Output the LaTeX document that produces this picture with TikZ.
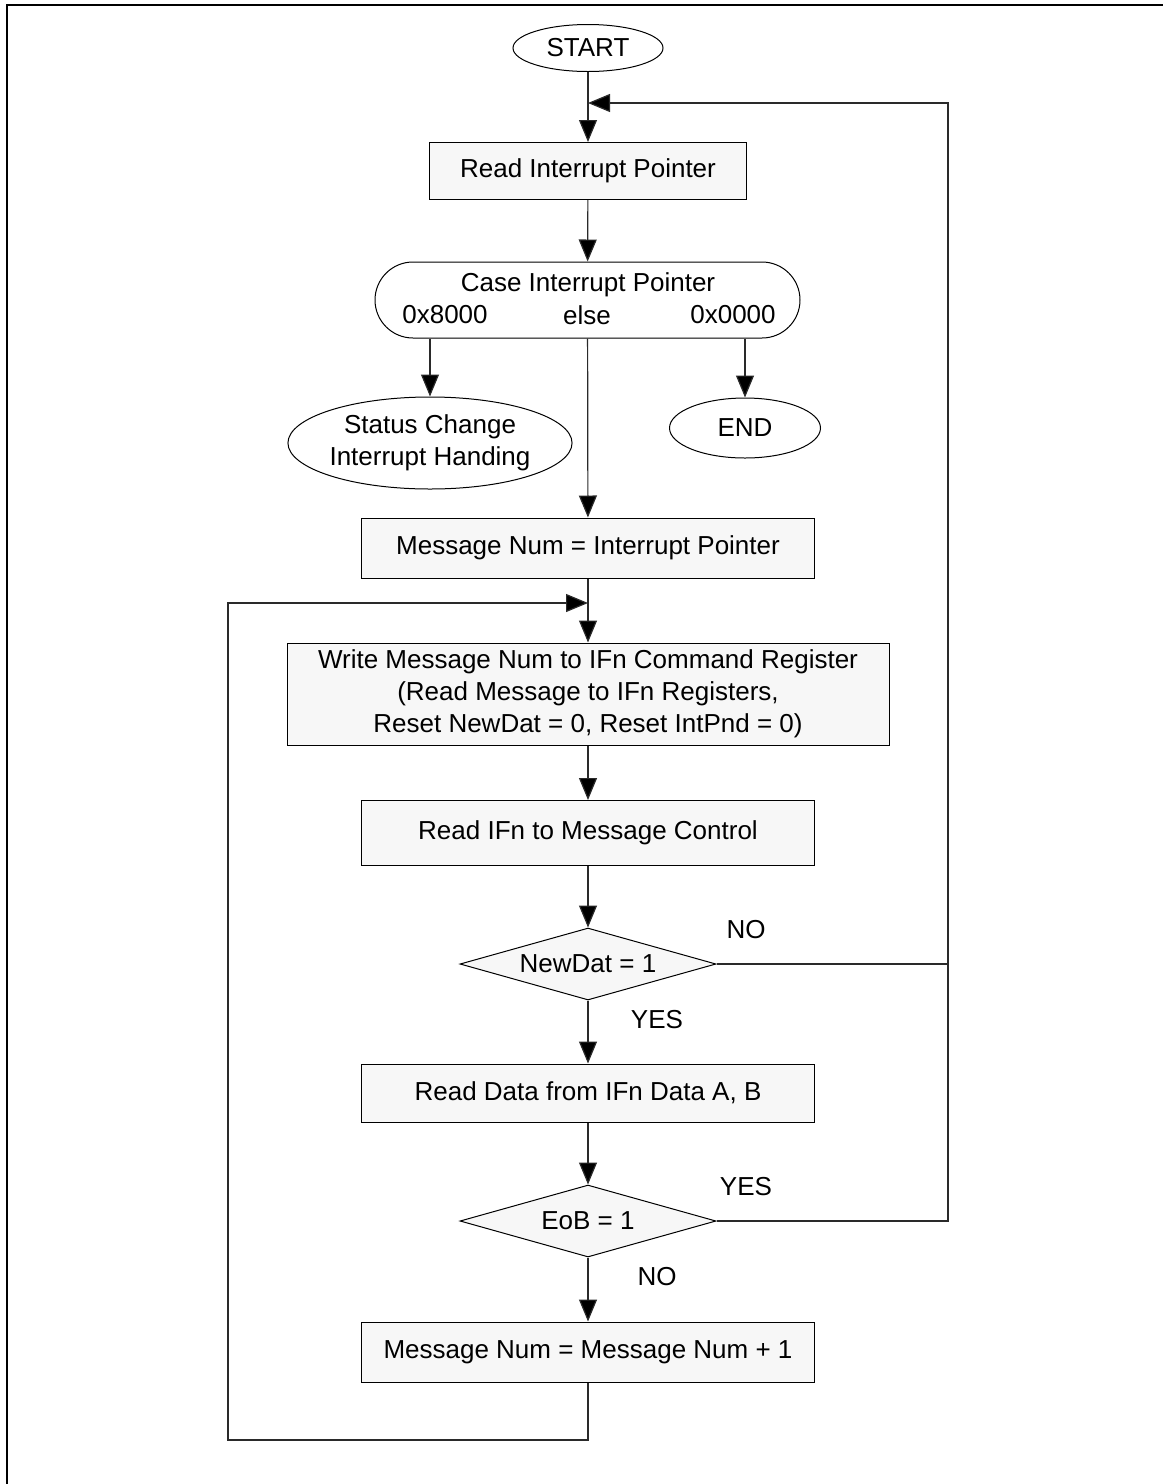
\documentclass[tikz,border=0pt]{standalone}
\usepackage{fontspec}
\setmainfont{Liberation Sans}
\usetikzlibrary{arrows.meta, positioning, shapes.geometric}
\definecolor{mBoxFill}{HTML}{F7F7F7}
\definecolor{mLine}{HTML}{2A2A2A}

\begin{document}
\begin{tikzpicture}[x=0.5pt, y=-0.5pt, font=\fontsize{13}{16}\selectfont,
      flow/.style={draw, line width=0.5pt, fill=mBoxFill, align=center, inner sep=2pt},
      procbox/.style={flow, rectangle, minimum height=30pt},
      term/.style={draw, line width=0.5pt, fill=white, ellipse, inner sep=0pt, align=center},
      decide/.style={flow, diamond, aspect=3.6, minimum width=128pt, minimum height=36pt, inner sep=0pt},
      link/.style={line width=0.6pt, mLine},
      arr/.style={link, -{Triangle[length=11pt, width=9pt, fill=black]}}]
    \useasboundingbox (0,0) rectangle (1163,1484);
    \draw[line width=1pt] (7,1484) -- (7,5) -- (1163,5);
    \node[term, minimum width=75pt, minimum height=23.5pt] (start) at (588,48) {START};
    \node[procbox, minimum width=158.5pt, minimum height=28.5pt] (readptr) at (588,171) {Read Interrupt Pointer};
    \node[flow, rounded corners=19pt, minimum width=212.5pt, minimum height=38pt, fill=white] (case) at (587.5,300) {};
    \node (casetitle) at (588,285) {Case Interrupt Pointer};
    \foreach \id/\x/\txt in {a/445/0x8000, b/587/else, c/733/0x0000}
      \node (case\id) at (\x,315) {\txt};
    \node[term, minimum width=136pt, minimum height=46pt] (status) at (430,443) {Status Change\\Interrupt Handing};
    \node[term, minimum width=75.5pt, minimum height=30pt] (finish) at (745,428) {END};
    \node[procbox, minimum width=226.5pt] (msgnum) at (588,548) {Message Num = Interrupt Pointer};
    \node[procbox, minimum width=301pt, minimum height=51pt] (write) at (588,694)
      {Write Message Num to IFn Command Register\\(Read Message to IFn Registers,\\Reset NewDat = 0, Reset IntPnd = 0)};
    \node[procbox, minimum width=226.5pt, minimum height=32.5pt] (readctl) at (588,833) {Read IFn to Message Control};
    \node[decide] (newdat) at (588,964) {NewDat = 1};
    \node[procbox, minimum width=226.5pt, minimum height=29pt] (readdata) at (588,1093) {Read Data from IFn Data A, B};
    \node[decide] (eob) at (588,1221) {EoB = 1};
    \node[procbox, minimum width=226.5pt] (incnum) at (588,1352) {Message Num = Message Num + 1};
    \node (newdatno) at (746,930) {NO};
    \node (newdatyes) at (657,1020) {YES};
    \node (eobyes) at (746,1187) {YES};
    \node (eobno) at (657,1277) {NO};
    \coordinate (rtop) at (588,103);
    \coordinate (rright) at (948,103);
    \coordinate (ljoin) at (588,603);
    \coordinate (lleft) at (228,603);
    \coordinate (lbottom) at (228,1440);
    \draw[arr] (start) -- (readptr);
    \draw[arr] (readptr) -- (case);
    \draw[arr] (case.south -| status.north) -- (status);
    \draw[arr] (case.south -| finish.north) -- (finish);
    \draw[arr] (case) -- (msgnum);
    \draw[arr] (msgnum) -- (write);
    \draw[arr] (write) -- (readctl);
    \draw[arr] (readctl) -- (newdat);
    \draw[arr] (newdat) -- (readdata);
    \draw[arr] (readdata) -- (eob);
    \draw[arr] (eob) -- (incnum);
    \draw[arr] (newdat.east) -| (rright) -- (rtop);
    \draw[link] (eob.east) -| (newdat.east -| rright);
    \draw[arr] (incnum.south) |- (lbottom) -- (lleft) -- (ljoin);
  \end{tikzpicture}
\end{document}
